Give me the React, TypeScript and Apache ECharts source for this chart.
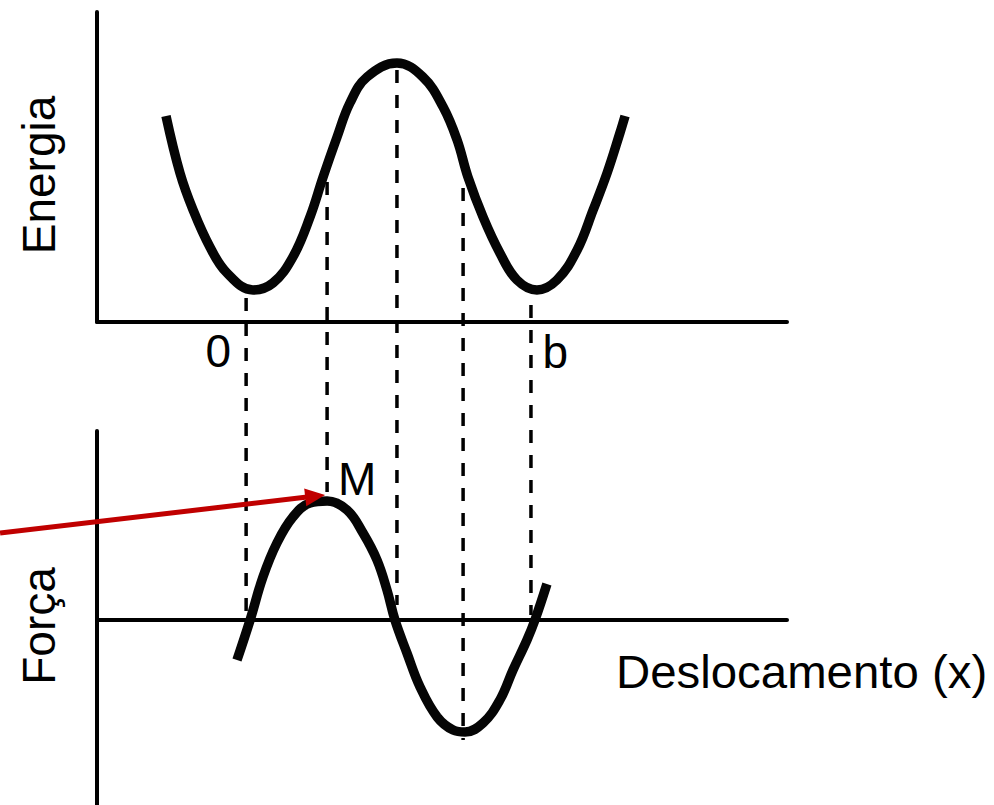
import React, { useEffect, useRef } from "react";
import * as echarts from "echarts";

// Energy curve (top panel) — x in units where 0 and b=10 are the marked positions
const energyX = [-2.78, -2.29, -1.83, -1.24, -0.64, 0.27, 0.97, 1.67, 2.27, 2.73, 3.22, 3.67, 4.27, 5.32, 6.23, 6.94, 7.43, 7.81, 8.34, 8.93, 9.53, 10.23, 10.93, 11.64, 12.2, 12.69, 13.14, 13.32];
const energyY = [20.6, 14.9, 11.2, 7.5, 4.9, 3.2, 3.9, 6.5, 10.5, 14.5, 18.5, 21.9, 24.5, 25.9, 24.5, 21.5, 18.2, 14.5, 10.5, 6.9, 4.2, 3.2, 4.2, 7.2, 11.2, 14.9, 18.9, 20.6];

// Force curve (bottom panel)
const forceX = [-0.29, 0.17, 0.62, 1.11, 1.67, 2.27, 2.87, 3.57, 4.13, 4.62, 4.97, 5.25, 5.67, 6.13, 6.73, 7.29, 7.71, 8.34, 8.93, 9.39, 9.88, 10.16, 10.58];
const forceY = [-4.0, 0, 4.3, 7.7, 10.3, 11.7, 11.9, 11.0, 8.7, 6.0, 3.0, 0, -3.3, -6.7, -9.7, -11.0, -11.2, -10.3, -8.0, -5.0, -2.0, 0, 3.6];

// Dashed guide lines connecting the two panels
const guideX = [0.03, 2.87, 5.32, 7.64, 10.02];
const guideEnergyEnd = [2.4, 14.0, 25.2, 13.4, 1.7];
const guideForceEnd = [0.3, 12.8, 1.5, -12.0, 0.5];

// Tick labels on the displacement axis
const tickValues = [0, 10];
const tickLabels = ["0", "b"];

// Point M (force maximum) and the red arrow pointing at it
const pointM = [2.87, 11.9];
const arrowStart = [-8.6, 8.7];
const arrowTip = [2.8, 12.5];

const FONT = "'Liberation Sans', Arial, Helvetica, sans-serif";

export default function App() {
  const ref = useRef<HTMLDivElement>(null);

  useEffect(() => {
    const el = ref.current!;
    const chart = echarts.init(el, null, { renderer: "svg" });

    const axisLine = { show: true, onZero: false, lineStyle: { color: "#000", width: 4 } };
    const hidden = {
      axisTick: { show: false },
      axisLabel: { show: false },
      splitLine: { show: false },
    };

    chart.setOption({
      animation: false,
      backgroundColor: "#fff",
      grid: [
        { left: 97, right: 207, top: 12, bottom: 483 },
        { left: 97, right: 207, top: 431, bottom: 0 },
      ],
      xAxis: [
        { gridIndex: 0, type: "value", min: -5.2, max: 19, axisLine, ...hidden },
        {
          gridIndex: 1,
          type: "value",
          min: -5.2,
          max: 19,
          axisLine: { show: true, onZero: true, lineStyle: { color: "#000", width: 4 } },
          ...hidden,
        },
      ],
      yAxis: [
        { gridIndex: 0, type: "value", min: 0, max: 31, axisLine, ...hidden },
        { gridIndex: 1, type: "value", min: -18.5, max: 18.9, axisLine, ...hidden },
      ],
      series: [
        {
          type: "line",
          xAxisIndex: 0,
          yAxisIndex: 0,
          data: energyX.map((x, i) => [x, energyY[i]]),
          smooth: 0.4,
          showSymbol: false,
          symbol: "none",
          lineStyle: { color: "#050505", width: 9.5, cap: "butt" },
          z: 5,
        },
        {
          type: "line",
          xAxisIndex: 1,
          yAxisIndex: 1,
          data: forceX.map((x, i) => [x, forceY[i]]),
          smooth: 0.4,
          showSymbol: false,
          symbol: "none",
          lineStyle: { color: "#050505", width: 9.5, cap: "butt" },
          z: 5,
        },
      ],
    });

    const toE = (p: number[]) => chart.convertToPixel({ gridIndex: 0 }, p) as number[];
    const toF = (p: number[]) => chart.convertToPixel({ gridIndex: 1 }, p) as number[];

    const elements: any[] = [];

    guideX.forEach((x, i) => {
      const a = toE([x, guideEnergyEnd[i]]);
      const b = toF([x, guideForceEnd[i]]);
      elements.push({
        type: "line",
        z: 1,
        shape: { x1: a[0], y1: a[1], x2: b[0], y2: b[1] },
        style: { stroke: "#000", lineWidth: 3.5, lineDash: [13, 12] },
      });
    });

    // Arrow
    const s = toF(arrowStart);
    const t = toF(arrowTip);
    const dx = t[0] - s[0];
    const dy = t[1] - s[1];
    const len = Math.hypot(dx, dy);
    const ux = dx / len;
    const uy = dy / len;
    const headLen = 20;
    const headHalf = 9;
    const bx = t[0] - ux * headLen;
    const by = t[1] - uy * headLen;
    elements.push({
      type: "line",
      z: 50,
      shape: { x1: s[0], y1: s[1], x2: bx + ux * 2, y2: by + uy * 2 },
      style: { stroke: "#c00000", lineWidth: 5 },
    });
    elements.push({
      type: "polygon",
      z: 50,
      shape: {
        points: [
          [t[0], t[1]],
          [bx - uy * headHalf, by + ux * headHalf],
          [bx + uy * headHalf, by - ux * headHalf],
        ],
      },
      style: { fill: "#c00000" },
    });

    const textStyle = (text: string, align: string) => ({
      text,
      fill: "#000",
      fontSize: 46,
      fontFamily: FONT,
      textAlign: align,
      textVerticalAlign: "middle",
    });

    // Tick labels
    const tickOffsets = [
      [-27, 29],
      [25, 30],
    ];
    tickValues.forEach((v, i) => {
      const p = toE([v, 0]);
      elements.push({
        type: "text",
        z: 60,
        x: p[0] + tickOffsets[i][0],
        y: p[1] + tickOffsets[i][1],
        style: textStyle(tickLabels[i], "center"),
      });
    });

    // M label
    const m = toF(pointM);
    elements.push({
      type: "text",
      z: 60,
      x: m[0] + 30,
      y: m[1] - 22,
      style: textStyle("M", "center"),
    });

    // Axis titles
    elements.push({
      type: "text",
      z: 60,
      x: 39,
      y: 175,
      rotation: Math.PI / 2,
      style: textStyle("Energia", "center"),
    });
    elements.push({
      type: "text",
      z: 60,
      x: 39,
      y: 626,
      rotation: Math.PI / 2,
      style: textStyle("Força", "center"),
    });
    elements.push({
      type: "text",
      z: 60,
      x: 616,
      y: 672,
      scaleX: 1.03,
      style: textStyle("Deslocamento (x)", "left"),
    });

    chart.setOption({ graphic: { elements } });

    return () => chart.dispose();
  }, []);

  return (
    <div
      ref={ref}
      style={{ position: "fixed", left: 0, top: 0, width: 994, height: 805, background: "#fff" }}
    />
  );
}
